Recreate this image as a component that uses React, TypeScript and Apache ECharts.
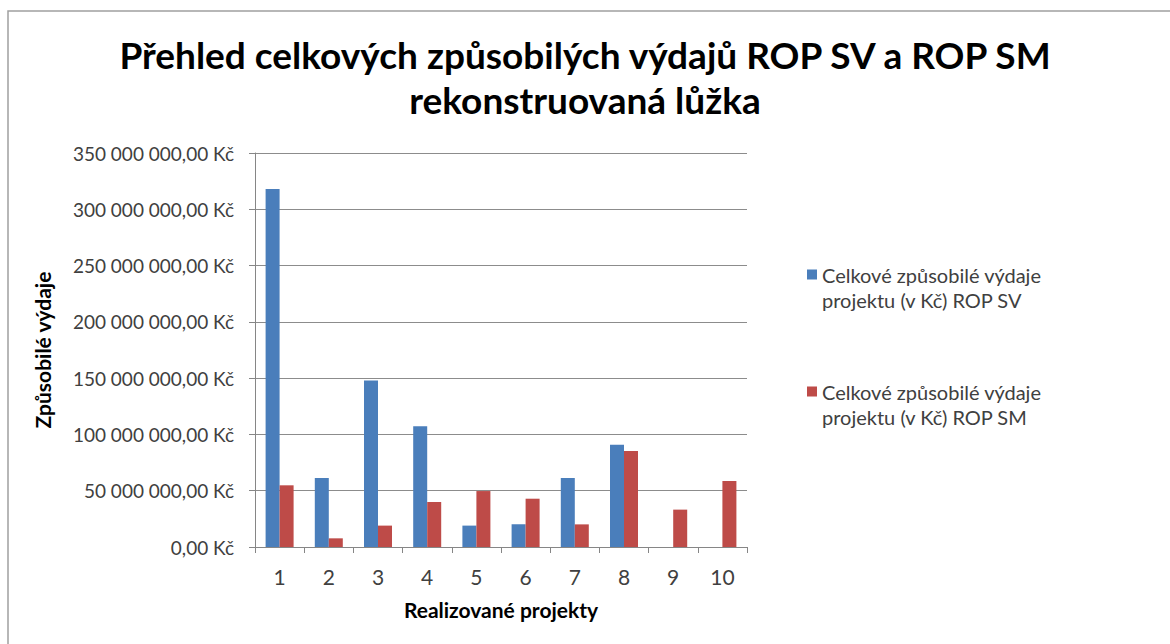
import React, { useEffect, useRef } from "react";
import * as echarts from "echarts";

const categories = ["1", "2", "3", "4", "5", "6", "7", "8", "9", "10"];
const seriesSV = [318000000, 61300000, 147800000, 107200000, 19000000, 20100000, 61300000, 90900000, 0, 0];
const seriesSM = [54800000, 7700000, 19000000, 40000000, 49700000, 42900000, 20100000, 85300000, 33200000, 58600000];
const nameSV = "Celkové způsobilé výdaje\nprojektu (v Kč) ROP SV";
const nameSM = "Celkové způsobilé výdaje\nprojektu (v Kč) ROP SM";
const titleText = "Přehled celkových způsobilých výdajů ROP SV a ROP SM\nrekonstruovaná lůžka";
const yName = "Způsobilé výdaje";
const xName = "Realizované projekty";

const FONT = "Lato, 'Open Sans', sans-serif";
const LEGEND_ICON = "path://M0,0L10,0L10,10L0,10Z M0,35L10,35";

function fmt(v: number): string {
  const s = Math.round(v).toString().replace(/\B(?=(\d{3})+(?!\d))/g, " ");
  return s + ",00 Kč";
}

export default function App() {
  const ref = useRef<HTMLDivElement>(null);
  useEffect(() => {
    document.body.style.margin = "0";
    const chart = echarts.init(ref.current!, null, { renderer: "svg" });
    const legendText = {
      fontFamily: FONT,
      fontSize: 20,
      color: "#404040",
      lineHeight: 25,
    };
    chart.setOption({
      animation: false,
      backgroundColor: "#ffffff",
      title: {
        text: titleText,
        left: "center",
        top: 27,
        textStyle: {
          fontFamily: FONT,
          fontSize: 37,
          fontWeight: "bold",
          color: "#000000",
          lineHeight: 45,
        },
      },
      graphic: [
        {
          type: "rect",
          shape: { x: 8, y: 11, width: 1200, height: 700 },
          style: { fill: "none", stroke: "#a0a0a0", lineWidth: 1.5 },
          silent: true,
        },
      ],
      legend: [
        {
          data: [{ name: nameSV, icon: LEGEND_ICON }],
          orient: "vertical",
          left: 802,
          top: 257,
          itemWidth: 10,
          itemHeight: 35,
          itemGap: 8,
          textStyle: legendText,
        },
        {
          data: [{ name: nameSM, icon: LEGEND_ICON }],
          orient: "vertical",
          left: 802,
          top: 374,
          itemWidth: 10,
          itemHeight: 35,
          itemGap: 8,
          textStyle: legendText,
        },
      ],
      grid: { left: 255, right: 423, top: 153, bottom: 97, containLabel: false },
      xAxis: {
        type: "category",
        data: categories,
        name: xName,
        nameLocation: "middle",
        nameGap: 52,
        nameTextStyle: { fontFamily: FONT, fontSize: 21, fontWeight: "bold", color: "#000" },
        axisLine: { lineStyle: { color: "#868686", width: 1 } },
        axisTick: { show: true, alignWithLabel: false, length: 6, lineStyle: { color: "#868686" } },
        axisLabel: { fontFamily: FONT, fontSize: 21, color: "#404040", margin: 19 },
        splitLine: { show: false },
      },
      yAxis: {
        type: "value",
        min: 0,
        max: 350000000,
        interval: 50000000,
        name: yName,
        nameLocation: "middle",
        nameGap: 202,
        nameTextStyle: { fontFamily: FONT, fontSize: 21, fontWeight: "bold", color: "#000" },
        axisLine: { show: true, lineStyle: { color: "#868686", width: 1 } },
        axisTick: { show: true, length: 6, lineStyle: { color: "#868686" } },
        axisLabel: {
          fontFamily: FONT,
          fontSize: 19,
          color: "#404040",
          margin: 21,
          formatter: (v: number) => fmt(v),
        },
        splitLine: { lineStyle: { color: "#8c8c8c", width: 1 } },
      },
      series: [
        {
          name: nameSV,
          type: "bar",
          data: seriesSV,
          barWidth: 14,
          barGap: "0%",
          itemStyle: { color: "#4a7ebb" },
        },
        {
          name: nameSM,
          type: "bar",
          data: seriesSM,
          barWidth: 14,
          barGap: "0%",
          itemStyle: { color: "#be4b48" },
        },
      ],
    });
    return () => chart.dispose();
  }, []);
  return <div ref={ref} style={{ width: 1170, height: 644 }} />;
}
